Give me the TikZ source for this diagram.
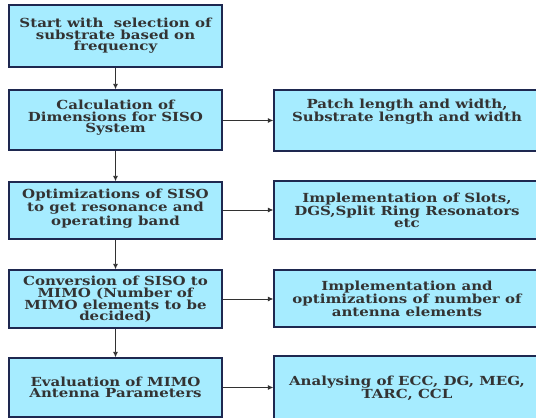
\documentclass[tikz,border=0pt]{standalone}
\usepackage{fontspec}
\setmainfont{DejaVu Serif}[FakeStretch=1.2]
\usetikzlibrary{arrows.meta,shadows,calc}
\definecolor{boxfill}{RGB}{166,236,255}
\definecolor{boxline}{RGB}{30,40,80}
\definecolor{arrowc}{RGB}{50,50,50}
\tikzset{
  stepbox/.style={draw=boxline, line width=1.3pt, fill=boxfill, rectangle,
    drop shadow={shadow xshift=1.2pt, shadow yshift=-1.2pt, opacity=0.45, fill=gray},
    inner sep=0pt},
  txt/.style={align=center, font=\fontsize{12.5}{11.6}\selectfont\bfseries, text=black!80},
  conn/.style={draw=arrowc, line width=0.9pt, -{Latex[length=5.5pt,width=5pt]}},
}
\begin{document}
\begin{tikzpicture}[x=1pt,y=1pt]
\useasboundingbox (0,0) rectangle (536,418);
\clip (0,0) rectangle (536,418);
% left boxes
\node[stepbox, minimum width=213pt, minimum height=62pt] (b1) at (115.5,382) {};
\node[stepbox, minimum width=213pt, minimum height=60pt] (b2) at (115.5,298) {};
\node[stepbox, minimum width=213pt, minimum height=57pt] (b3) at (115.5,207.5) {};
\node[stepbox, minimum width=213pt, minimum height=58pt] (b4) at (115.5,119) {};
\node[stepbox, minimum width=213pt, minimum height=59pt] (b5) at (115.5,30.5) {};
% right boxes
\node[stepbox, minimum width=266pt, minimum height=61pt] (r1) at (407,297.5) {};
\node[stepbox, minimum width=266pt, minimum height=58pt] (r2) at (407,208) {};
\node[stepbox, minimum width=266pt, minimum height=57pt] (r3) at (407,119.5) {};
\node[stepbox, minimum width=266pt, minimum height=64pt] (r4) at (407,30) {};
% texts
\node[txt] (t1) at (b1.center) {Start with \ selection of\\substrate based on\\frequency};
\node[txt] (t2) at ([yshift=2pt]b2.center) {Calculation of\\Dimensions for SISO\\System};
\node[txt] (t3) at ([yshift=2pt]b3.center) {Optimizations of SISO\\to get resonance and\\operating band};
\node[txt] (t4) at ([yshift=-0.5pt]b4.center) {Conversion of SISO to\\MIMO (Number of\\MIMO elements to be\\decided)};
\node[txt] (t5) at (b5.center) {Evaluation of MIMO\\Antenna Parameters};
\node[txt] (u1) at ([yshift=9pt]r1.center) {Patch length and width,\\Substrate length and width};
\node[txt] (u2) at (r2.center) {Implementation of Slots,\\DGS,Split Ring Resonators\\etc};
\node[txt] (u3) at (r3.center) {Implementation and\\optimizations of number of\\antenna elements};
\node[txt] (u4) at (r4.center) {Analysing of ECC, DG, MEG,\\TARC, CCL};
% connectors
\draw[conn] (b1.south) -- (b2.north);
\draw[conn] (b2.south) -- (b3.north);
\draw[conn] (b3.south) -- (b4.north);
\draw[conn] (b4.south) -- (b5.north);
\draw[conn] (b2.east |- r1.west) -- (r1.west);
\draw[conn] (b3.east |- r2.west) -- (r2.west);
\draw[conn] (b4.east) -- (b4.east -| r3.west);
\draw[conn] (b5.east) -- (b5.east -| r4.west);
\end{tikzpicture}
\end{document}
